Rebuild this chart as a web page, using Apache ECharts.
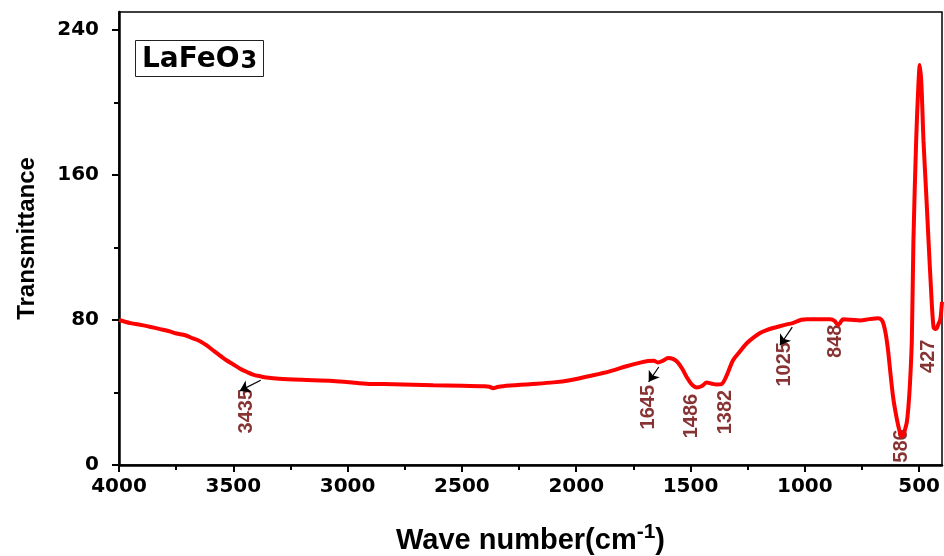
<!DOCTYPE html>
<html>
<head>
<meta charset="utf-8">
<script src="https://cdn.jsdelivr.net/npm/echarts@6/dist/echarts.min.js"></script>
<style>
  html, body { margin: 0; padding: 0; background: #fff; }
  #chart { width: 944px; height: 556px; }
</style>
</head>
<body>
<div id="chart"></div>
<script>
// FTIR spectrum of LaFeO3: wave number (cm^-1) vs transmittance
const waveNumbers = [
  4000, 3950, 3900, 3866, 3820, 3780, 3749, 3710, 3677, 3650, 3618, 3575, 3530, 3500,
  3472, 3440, 3414, 3380, 3355, 3300, 3200, 3064, 2918, 2800, 2626, 2500, 2400, 2380,
  2363, 2345, 2320, 2203, 2100, 2028, 1926, 1850, 1780, 1720, 1686, 1660, 1643, 1620,
  1599, 1575, 1555, 1535, 1517, 1495, 1473, 1450, 1429, 1410, 1386, 1365, 1345, 1314,
  1285, 1254, 1225, 1196, 1170, 1139, 1110, 1079, 1050, 1036, 1015, 990, 950, 890,
  870, 855, 845, 833, 800, 758, 720, 680, 665, 655, 645, 636, 625, 614, 603, 592,
  585, 578, 570, 562, 554, 547, 540, 532, 525, 513, 505, 497, 490, 481, 470, 459,
  448, 437, 428, 423, 415, 408, 404, 400
];
const transmittance = [
  80.0, 78.3, 77.2, 76.3, 75.0, 73.8, 72.6, 71.6, 69.9, 68.6, 66.1, 62.0, 57.8, 55.5,
  53.3, 51.3, 49.9, 48.9, 48.3, 47.6, 47.0, 46.4, 44.9, 44.6, 44.0, 43.8, 43.5, 43.2,
  42.4, 43.0, 43.5, 44.6, 45.6, 46.8, 49.5, 51.8, 54.5, 56.5, 57.4, 57.5, 56.6, 57.6,
  59.0, 58.4, 56.5, 52.8, 48.6, 44.5, 42.8, 43.6, 45.5, 45.0, 44.4, 44.6, 48.5, 57.8,
  62.5, 67.2, 70.3, 72.8, 74.3, 75.6, 76.6, 77.6, 78.4, 79.2, 80.2, 80.5, 80.4, 80.4,
  79.6, 77.3, 78.5, 80.4, 80.2, 79.8, 80.5, 81.0, 80.2, 77.5, 71.5, 63.3, 50.0, 37.6,
  29.0, 22.0, 18.5, 16.0, 16.5, 19.5, 23.5, 32.0, 45.1, 68.8, 124.0, 179.0, 205.0, 220.7,
  210.0, 179.0, 152.0, 124.0, 97.0, 76.0, 75.0, 75.4, 78.0, 80.0, 84.0, 90.0
];

// Peak annotations: text and where each one sits (wave number, transmittance)
const peakLabels = ['3435', '1645', '1486', '1382', '1025', '848', '586', '427'];
const peakLabelX = [3443, 1686, 1497, 1349, 1090, 867, 576, 459];
const peakLabelY = [29.7, 31.9, 27.0, 29.2, 55.6, 68.3, 10.5, 60.0];

// Pointer arrows: [tail, head] in data coordinates
const arrowTails = [[3380, 46.8], [1639, 54.1], [1055, 76.1]];
const arrowHeads = [[3472, 40.9], [1683, 45.9], [1109, 66.1]];

// Axis ticks and labels
const xMajorTicks = [500, 1000, 1500, 2000, 2500, 3000, 3500, 4000];
const xMinorTicks = [750, 1250, 1750, 2250, 2750, 3250, 3750];
const yMajorTicks = [0, 80, 160, 240];
const yMinorTicks = [40, 120, 200];

const spectrum = waveNumbers.map((w, i) => [w, transmittance[i]]);
const peakPoints = peakLabels.map((t, i) => ({ name: t, value: [peakLabelX[i], peakLabelY[i]] }));
const arrows = arrowTails.map((t, i) => ({ coords: [t, arrowHeads[i]] }));

const tickFont = {
  fontFamily: 'DejaVu Sans', fontWeight: 'bold', fontSize: 20, color: '#000',
  formatter: v => String(v)
};

const chart = echarts.init(document.getElementById('chart'), null, { renderer: 'canvas' });
chart.setOption({
  animation: false,
  backgroundColor: '#fff',
  title: {
    text: '{a|LaFeO}{b|3}',
    left: 135, top: 32,
    padding: [6, 7, 3, 7],
    borderColor: '#222', borderWidth: 1,
    textStyle: {
      rich: {
        a: { fontFamily: 'DejaVu Sans', fontWeight: 'bold', fontSize: 28, color: '#000', verticalAlign: 'bottom' },
        b: { fontFamily: 'DejaVu Sans', fontWeight: 'bold', fontSize: 24, color: '#000', padding: [12, 0, 0, 1] }
      }
    }
  },
  grid: {
    left: 119, right: 2, top: 12, bottom: 91,
    outerBoundsMode: 'none',
    show: true, borderColor: '#000', borderWidth: 1.5, backgroundColor: 'transparent'
  },
  xAxis: [
    {
      type: 'value', min: 400, max: 4000, inverse: true,
      name: 'Wave number(cm{sup|-1})',
      nameLocation: 'middle', nameGap: 57,
      nameTextStyle: {
        fontFamily: 'Liberation Sans', fontWeight: 'bold', fontSize: 29, color: '#000',
        rich: {
          sup: { fontFamily: 'Liberation Sans', fontWeight: 'bold', fontSize: 21, color: '#000', padding: [0, 0, 16, 0] }
        }
      },
      axisLine: { show: true, onZero: false, lineStyle: { color: '#000', width: 2.5 } },
      axisTick: { show: true, inside: false, length: 7, lineStyle: { color: '#000', width: 2 }, customValues: xMajorTicks },
      axisLabel: Object.assign({ margin: 12, customValues: xMajorTicks }, tickFont),
      splitLine: { show: false }
    },
    {
      type: 'value', min: 400, max: 4000, inverse: true, position: 'bottom',
      axisLine: { show: false },
      axisTick: { show: true, inside: false, length: 5, lineStyle: { color: '#000', width: 2 }, customValues: xMinorTicks },
      axisLabel: { show: false },
      splitLine: { show: false }
    }
  ],
  yAxis: [
    {
      type: 'value', min: 0, max: 250,
      name: 'Transmittance',
      nameLocation: 'middle', nameGap: 80,
      nameTextStyle: { fontFamily: 'Liberation Sans', fontWeight: 'bold', fontSize: 24, color: '#000' },
      axisLine: { show: true, onZero: false, lineStyle: { color: '#000', width: 2.5 } },
      axisTick: { show: true, inside: false, length: 7, lineStyle: { color: '#000', width: 2 }, customValues: yMajorTicks },
      axisLabel: Object.assign({ margin: 20, customValues: yMajorTicks }, tickFont),
      splitLine: { show: false }
    },
    {
      type: 'value', min: 0, max: 250, position: 'left', offset: 0,
      axisLine: { show: false },
      axisTick: { show: true, inside: false, length: 5, lineStyle: { color: '#000', width: 2 }, customValues: yMinorTicks },
      axisLabel: { show: false },
      splitLine: { show: false }
    }
  ],
  series: [
    {
      name: 'LaFeO3',
      type: 'line',
      xAxisIndex: 0, yAxisIndex: 0,
      data: spectrum,
      smooth: 0.3,
      showSymbol: false,
      lineStyle: { color: '#ff0000', width: 4 },
      z: 3
    },
    {
      type: 'scatter',
      xAxisIndex: 0, yAxisIndex: 0,
      data: peakPoints,
      symbolSize: 0,
      label: {
        show: true, position: 'inside', rotate: 90,
        formatter: p => p.name,
        fontFamily: 'Liberation Sans', fontWeight: 'bold', fontSize: 20, color: '#6a0000'
      },
      z: 2
    },
    {
      type: 'lines',
      coordinateSystem: 'cartesian2d',
      xAxisIndex: 0, yAxisIndex: 0,
      data: arrows,
      symbol: ['none', 'arrow'],
      symbolSize: 10,
      lineStyle: { color: '#000', width: 1.2, opacity: 1 },
      z: 4
    }
  ]
});
</script>
</body>
</html>
